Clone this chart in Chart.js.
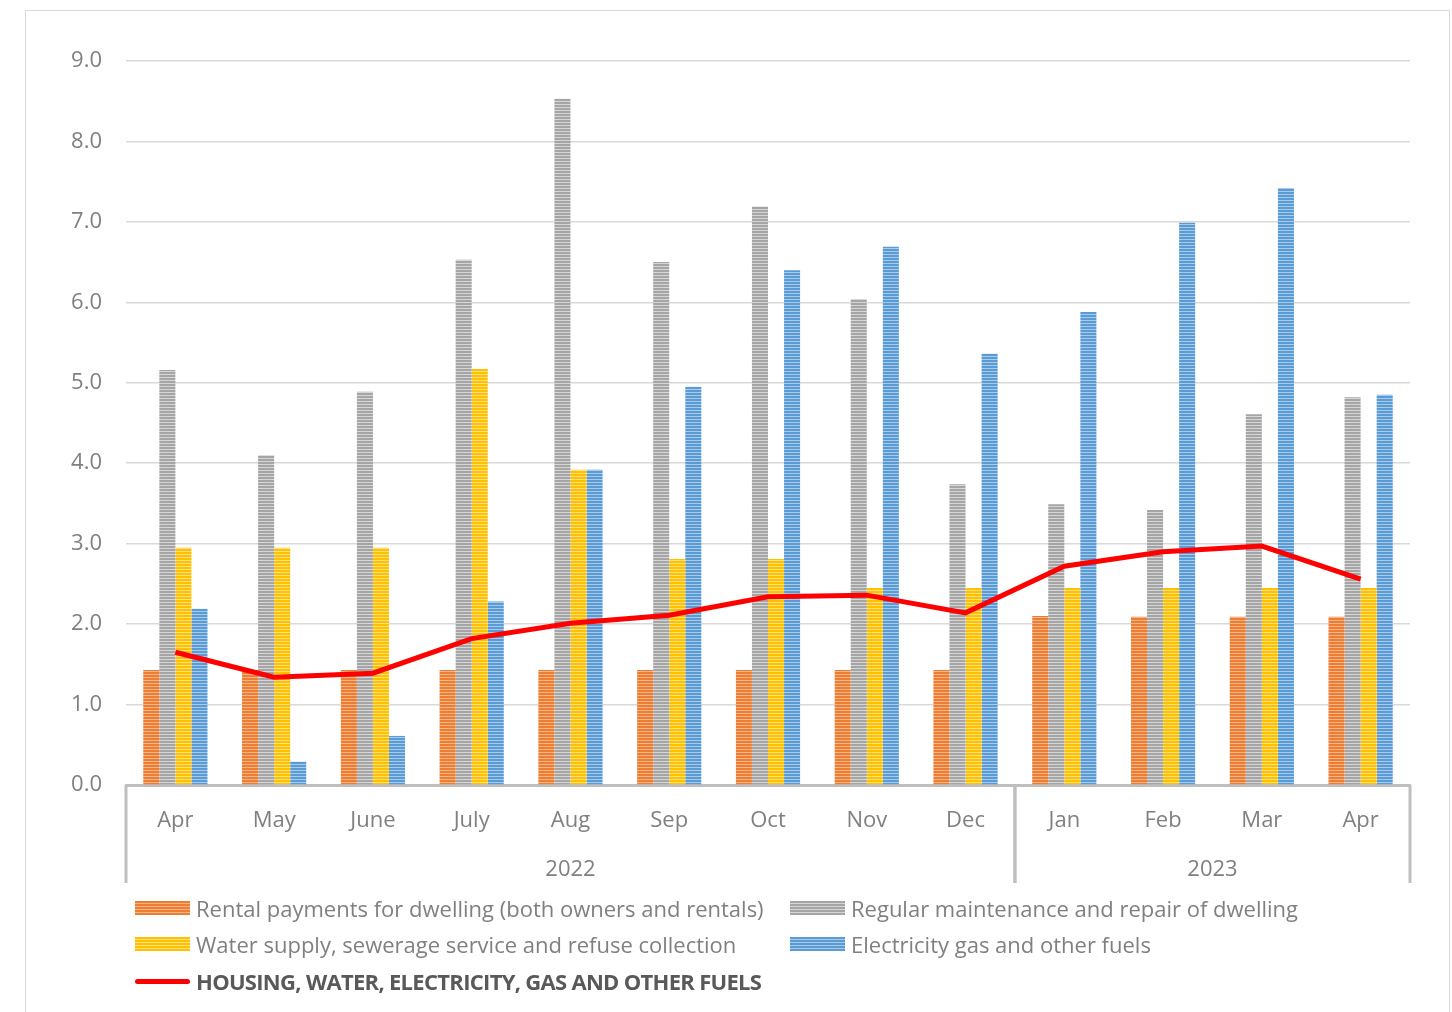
<!DOCTYPE html>
<html>
<head>
<meta charset="utf-8">
<script src="https://cdn.jsdelivr.net/npm/chart.js@4.4.1/dist/chart.umd.min.js"></script>
<style>
  body { margin: 0; background: #fff; font-family: "Open Sans", sans-serif; }
  #wrap { position: relative; width: 1452px; height: 1012px; overflow: hidden; }
  #moldura { position: absolute; left: 25px; top: 10px; width: 1423px; height: 1010px; border: 1px solid #d9d9d9; }
  #grafico { position: absolute; left: 0; top: 0; }
  .leg { position: absolute; display: flex; align-items: center; font-size: 22px; color: #808080; white-space: nowrap; }
  .sw { width: 55px; height: 14px; margin-right: 6px; }
  .negrito { font-weight: bold; color: #595959; letter-spacing: -0.7px; }
</style>
</head>
<body>
<div id="wrap">
  <div id="moldura"></div>
  <canvas id="grafico" width="1452" height="1012"></canvas>
  <div class="leg" style="left:135px;top:893px"><span class="sw" style="background:repeating-linear-gradient(to bottom,#ED7D31 0 2px,#F6B48A 2px 3px)"></span>Rental payments for dwelling (both owners and rentals)</div>
  <div class="leg" style="left:790px;top:893px"><span class="sw" style="background:repeating-linear-gradient(to bottom,#A5A5A5 0 2px,#D6D6D6 2px 3px)"></span>Regular maintenance and repair of dwelling</div>
  <div class="leg" style="left:135px;top:929px"><span class="sw" style="background:repeating-linear-gradient(to bottom,#FFC000 0 2px,#FFE080 2px 3px)"></span>Water supply, sewerage service and refuse collection</div>
  <div class="leg" style="left:790px;top:929px"><span class="sw" style="background:repeating-linear-gradient(to bottom,#5B9BD5 0 2px,#A9CBEA 2px 3px)"></span>Electricity gas and other fuels</div>
  <div class="leg negrito" style="left:135px;top:966px"><span class="sw" style="height:5px;border-radius:3px;background:#ff0000"></span>HOUSING, WATER, ELECTRICITY, GAS AND OTHER FUELS</div>
</div>
<script>
const meses = ["Apr", "May", "June", "July", "Aug", "Sep", "Oct", "Nov", "Dec", "Jan", "Feb", "Mar", "Apr"];
const anos = ["2022", "2023"];
const mesesPorAno = [9, 4];

const aluguel = [1.43, 1.43, 1.43, 1.43, 1.43, 1.43, 1.43, 1.43, 1.43, 2.1, 2.09, 2.09, 2.09];
const manutencao = [5.16, 4.1, 4.89, 6.53, 8.53, 6.5, 7.19, 6.04, 3.74, 3.49, 3.42, 4.61, 4.82];
const agua = [2.95, 2.95, 2.95, 5.17, 3.92, 2.81, 2.81, 2.45, 2.45, 2.45, 2.45, 2.45, 2.45];
const eletricidade = [2.19, 0.29, 0.61, 2.28, 3.92, 4.95, 6.4, 6.69, 5.36, 5.88, 6.99, 7.42, 4.85];
const habitacao = [1.65, 1.34, 1.39, 1.82, 2.01, 2.11, 2.34, 2.36, 2.14, 2.72, 2.9, 2.97, 2.56];

const yTicks = [0, 1, 2, 3, 4, 5, 6, 7, 8, 9];

function listras(cor, clara) {
  const c = document.createElement("canvas");
  c.width = 4;
  c.height = 3;
  const g = c.getContext("2d");
  g.fillStyle = clara;
  g.fillRect(0, 0, 4, 3);
  g.fillStyle = cor;
  g.fillRect(0, 0, 4, 2);
  return g.createPattern(c, "repeat");
}

// year labels and separators under the month ticks
const gruposAno = {
  id: "gruposAno",
  afterDraw(chart) {
    const x = chart.scales.x;
    const ctx = chart.ctx;
    const passo = x.getPixelForValue(1) - x.getPixelForValue(0);
    ctx.save();
    ctx.strokeStyle = "#bfbfbf";
    ctx.lineWidth = 3;
    ctx.fillStyle = "#808080";
    ctx.font = '22px "Open Sans"';
    ctx.textAlign = "center";
    ctx.textBaseline = "middle";
    let inicio = 0;
    mesesPorAno.forEach((n, i) => {
      const esq = x.getPixelForValue(inicio) - passo / 2;
      const dir = x.getPixelForValue(inicio + n - 1) + passo / 2;
      ctx.beginPath();
      ctx.moveTo(esq, x.top);
      ctx.lineTo(esq, x.top + 98);
      ctx.moveTo(dir, x.top);
      ctx.lineTo(dir, x.top + 98);
      ctx.stroke();
      ctx.fillText(anos[i], (esq + dir) / 2, x.top + 85);
      inicio += n;
    });
    ctx.restore();
  },
};

const barra = (label, data, cor, clara) => ({
  type: "bar",
  label,
  data,
  backgroundColor: listras(cor, clara),
  borderWidth: 0,
  order: 1,
});

new Chart(document.getElementById("grafico"), {
  data: {
    labels: meses,
    datasets: [
      {
        type: "line",
        label: "HOUSING, WATER, ELECTRICITY, GAS AND OTHER FUELS",
        data: habitacao,
        borderColor: "#ff0000",
        borderWidth: 5,
        pointRadius: 0,
        tension: 0,
        order: 0,
      },
      barra("Rental payments for dwelling (both owners and rentals)", aluguel, "#ED7D31", "#F6B48A"),
      barra("Regular maintenance and repair of dwelling", manutencao, "#A5A5A5", "#D6D6D6"),
      barra("Water supply, sewerage service and refuse collection", agua, "#FFC000", "#FFE080"),
      barra("Electricity gas and other fuels", eletricidade, "#5B9BD5", "#A9CBEA"),
    ],
  },
  options: {
    responsive: false,
    animation: false,
    categoryPercentage: 0.65,
    barPercentage: 1,
    layout: { padding: { top: 61, right: 42, bottom: 127, left: 0 } },
    plugins: { legend: { display: false }, tooltip: { enabled: false } },
    scales: {
      x: {
        grid: { display: false, drawTicks: false },
        border: { color: "#bfbfbf", width: 3 },
        ticks: { color: "#808080", font: { family: "Open Sans", size: 22 }, padding: 23, maxRotation: 0 },
        afterFit(s) { s.height = 100; },
      },
      y: {
        min: 0,
        max: 9,
        afterBuildTicks(s) { s.ticks = yTicks.map((v) => ({ value: v })); },
        grid: { color: "#d9d9d9", lineWidth: 1.5, drawTicks: false },
        border: { display: false },
        ticks: {
          color: "#808080",
          font: { family: "Open Sans", size: 22 },
          padding: 24,
          callback: (v) => v.toFixed(1),
        },
        afterFit(s) { s.width = 126; },
      },
    },
  },
  plugins: [gruposAno],
});
</script>
</body>
</html>
